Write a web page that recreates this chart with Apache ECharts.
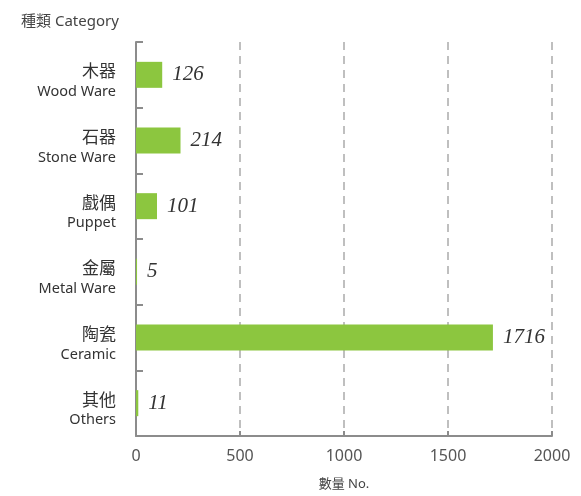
<!DOCTYPE html>
<html>
<head>
<meta charset="utf-8">
<script src="https://cdn.jsdelivr.net/npm/echarts@6/dist/echarts.min.js"></script>
<style>
  html, body { margin: 0; padding: 0; background: #fff; }
  #chart { width: 581px; height: 496px; }
</style>
</head>
<body>
<div id="chart"></div>
<script>
// 類別 (中文 / English)
const categoriesZh = ['木器', '石器', '戲偶', '金屬', '陶瓷', '其他'];
const categoriesEn = ['Wood Ware', 'Stone Ware', 'Puppet', 'Metal Ware', 'Ceramic', 'Others'];
// 數量
const counts = [126, 214, 101, 5, 1716, 11];
const xTicks = [0, 500, 1000, 1500, 2000];

const labels = categoriesZh.map((zh, i) => zh + '\n' + categoriesEn[i]);

const myChart = echarts.init(document.getElementById('chart'));

myChart.setOption({
  animation: false,
  textStyle: {
    fontFamily: '"Noto Sans", "Noto Sans CJK TC", sans-serif'
  },
  title: {
    text: '種類 Category',
    left: 16,
    top: 9,
    textStyle: {
      fontSize: 15,
      fontWeight: 'normal',
      color: '#444',
      fontFamily: '"Noto Sans", "Noto Sans CJK TC", sans-serif'
    }
  },
  grid: {
    left: 136,
    right: 29,
    top: 42,
    bottom: 58
  },
  xAxis: {
    type: 'value',
    min: xTicks[0],
    max: xTicks[xTicks.length - 1],
    interval: 500,
    name: '數量 No.',
    nameLocation: 'middle',
    nameGap: 42,
    nameTextStyle: {
      fontSize: 13,
      color: '#444'
    },
    axisLine: {
      show: true,
      lineStyle: { color: '#8c8c8c', width: 2 }
    },
    axisTick: {
      show: true,
      inside: true,
      length: 5,
      lineStyle: { color: '#8c8c8c', width: 2 }
    },
    axisLabel: {
      fontSize: 16,
      color: '#555',
      margin: 12,
      formatter: function (v) { return String(v); }
    },
    splitLine: {
      show: true,
      lineStyle: {
        color: '#aaa',
        width: 1.5,
        type: [8, 6]
      }
    }
  },
  yAxis: {
    type: 'category',
    inverse: true,
    data: labels,
    axisLine: {
      show: true,
      lineStyle: { color: '#8c8c8c', width: 2 }
    },
    axisTick: {
      show: true,
      inside: true,
      length: 7,
      interval: 0,
      lineStyle: { color: '#8c8c8c', width: 2 }
    },
    axisLabel: {
      margin: 20,
      color: '#333',
      padding: [12, 0, 0, 0],
      formatter: function (val) {
        const parts = val.split('\n');
        return '{zh|' + parts[0] + '}\n{en|' + parts[1] + '}';
      },
      rich: {
        zh: {
          fontSize: 17,
          lineHeight: 22,
          color: '#333',
          align: 'right',
          fontFamily: '"Noto Sans CJK TC", sans-serif'
        },
        en: {
          fontSize: 14.5,
          lineHeight: 20,
          color: '#333',
          align: 'right',
          fontFamily: '"Noto Sans", sans-serif'
        }
      }
    },
    splitLine: { show: false }
  },
  series: [{
    type: 'bar',
    data: counts,
    barWidth: 26,
    itemStyle: {
      color: '#8cc63f'
    },
    label: {
      show: true,
      position: 'right',
      distance: 10,
      fontSize: 21,
      fontStyle: 'italic',
      color: '#333',
      fontFamily: '"Liberation Serif", "DejaVu Serif", serif'
    }
  }]
});
</script>
</body>
</html>
